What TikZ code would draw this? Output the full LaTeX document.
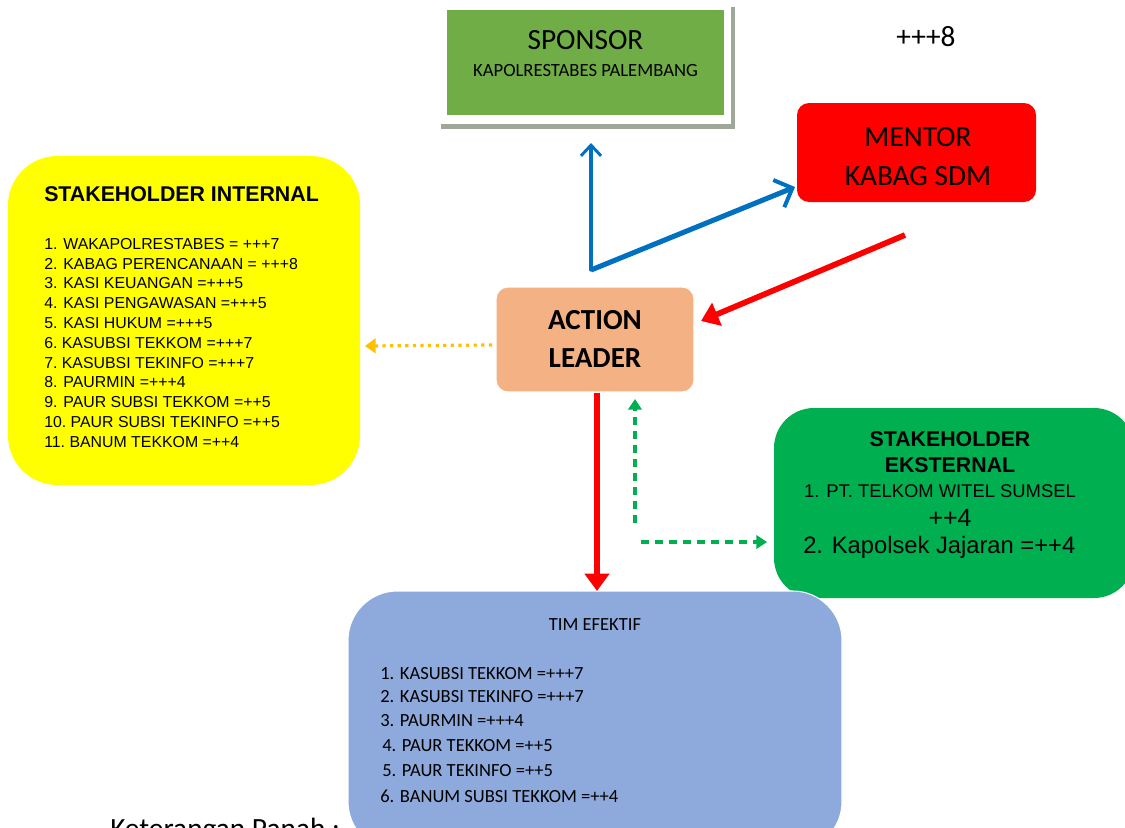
\documentclass[tikz,border=0pt]{standalone}
\usepackage{fontspec}
\setmainfont{Carlito}
\newfontfamily\arialf{Liberation Sans}
\usetikzlibrary{arrows.meta}
\definecolor{sgreen}{HTML}{70AD47}
\definecolor{sgrey}{HTML}{9FA898}
\definecolor{mred}{HTML}{FF0000}
\definecolor{iyellow}{HTML}{FFFF00}
\definecolor{lorange}{HTML}{F4B183}
\definecolor{egreen}{HTML}{00B050}
\definecolor{tblue}{HTML}{8EA9DB}
\definecolor{ablue}{HTML}{0070C0}
\definecolor{aorange}{HTML}{FFC000}
\tikzset{
  box/.style n args={2}{rectangle, minimum width=#1*0.75pt, minimum height=#2*0.75pt, inner sep=0pt},
  bluearrow/.style={draw=ablue, -{Straight Barb[length=8pt,width=15pt,line width=2.2pt]}},
  bigbluearrow/.style={draw=ablue, -{Straight Barb[length=11pt,width=22pt,line width=3pt]}},
  redarrow/.style={draw=mred, -{Triangle[length=13pt,width=18pt]}},
  greenarrow/.style={draw=egreen, dash pattern=on 6pt off 4.5pt, line width=2.3pt, -{Triangle[length=8pt,width=10pt]}},
  orangearrow/.style={draw=aorange, dash pattern=on 2.4pt off 3.3pt, line width=2.4pt, -{Triangle[length=8pt,width=11pt]}},
  timitem/.style={anchor=west, inner sep=0pt, font=\fontsize{13.9}{16}\selectfont},
}
\begin{document}
\begin{tikzpicture}[x=0.75pt,y=-0.75pt]
\useasboundingbox (0,0) rectangle (1125,828);
\clip (0,0) rectangle (1125,828);
% sponsor with shadow
\fill[sgrey] (441,7) rectangle (735,129);
\fill[white] (437,3) rectangle (731,124);
\node[box={277}{105}, fill=sgreen] (sponsor) at (585.5,62.5) {};
\node[font=\fontsize{22}{24}\selectfont] (sponsort) at (585.5,40) {SPONSOR};
\node[font=\fontsize{14}{16}\selectfont] (sponsors) at (585.5,71) {KAPOLRESTABES PALEMBANG};
\node[font=\fontsize{22}{24}\selectfont] (plus8) at (926,37) {+++8};
% mentor
\node[box={239}{99}, fill=mred, rounded corners=9pt] (mentor) at (916.5,152.5) {};
\node[font=\fontsize{22}{24}\selectfont] (mentor1) at (918,137) {MENTOR};
\node[font=\fontsize{22}{24}\selectfont] (mentor2) at (918,176) {KABAG SDM};
% internal
\node[box={352}{329}, fill=iyellow, rounded corners=37pt] (internal) at (184,320.5) {};
\node[anchor=west, inner sep=0pt, font=\arialf\bfseries\fontsize{16}{18}\selectfont] (intt) at (44,194) {STAKEHOLDER INTERNAL};
\node[anchor=north west, inner sep=0pt, align=left, font=\arialf\fontsize{11.9}{14.85}\selectfont] (intl) at (44,238) {1. WAKAPOLRESTABES = +++7\\2. KABAG PERENCANAAN = +++8\\3. KASI KEUANGAN =+++5\\4. KASI PENGAWASAN =+++5\\5. KASI HUKUM =+++5\\6.\ KASUBSI\ TEKKOM =+++7\\7.\ KASUBSI\ TEKINFO =+++7\\8. PAURMIN =+++4\\9. PAUR SUBSI TEKKOM =++5\\10.\ PAUR SUBSI TEKINFO =++5\\11.\ BANUM TEKKOM =++4};
% action leader
\node[box={198}{105}, fill=lorange, draw=white, line width=0.8pt, rounded corners=9pt] (leader) at (595,339.5) {};
\node[font=\bfseries\fontsize{21.8}{24}\selectfont] (leader1) at (595,320) {ACTION};
\node[font=\bfseries\fontsize{21.8}{24}\selectfont] (leader2) at (595,358) {LEADER};
% eksternal
\node[box={360}{190}, fill=egreen, rounded corners=30pt] (ekst) at (954,503) {};
\node[font=\arialf\bfseries\fontsize{16}{19.5}\selectfont, align=center] (ekstt) at (950,452) {STAKEHOLDER\\EKSTERNAL};
\node[font=\arialf\fontsize{13.8}{16}\selectfont] (ekst1) at (940,491) {1. PT. TELKOM WITEL SUMSEL};
\node[font=\arialf\fontsize{18.7}{20}\selectfont] (ekst2) at (950,518) {++4};
\node[anchor=west, inner sep=0pt, font=\arialf\fontsize{17.8}{20}\selectfont] (ekst3) at (803,547) {2. Kapolsek Jajaran =++4};
% tim efektif
\node[box={494}{260}, fill=tblue, draw=white, line width=0.8pt, rounded corners=37pt] (tim) at (595,721) {};
\node[font=\fontsize{13.9}{16}\selectfont] (timt) at (595,625) {TIM EFEKTIF};
\node[timitem] (tim1) at (380,674) {1. KASUBSI\ TEKKOM =+++7};
\node[timitem] (tim2) at (380,697) {2. KASUBSI\ TEKINFO =+++7};
\node[timitem] (tim3) at (380,721) {3. PAURMIN =+++4};
\node[timitem] (tim4) at (382,746) {4. PAUR TEKKOM =++5};
\node[timitem] (tim5) at (382,771) {5. PAUR TEKINFO =++5};
\node[timitem] (tim6) at (380,796) {6. BANUM SUBSI TEKKOM =++4};
% keterangan
\node[anchor=west, inner sep=0pt, font=\fontsize{22}{24}\selectfont] (ket) at (110,831) {Keterangan Panah :};
% arrows
\coordinate (bstart) at (591,270);
\coordinate (bup) at (591,143);
\coordinate (bmen) at (795,187);
\coordinate (rstart) at (905,235);
\coordinate (rend) at (701,321);
\coordinate (gustart) at (635,523);
\coordinate (guend) at (635,399);
\coordinate (grstart) at (641,542);
\coordinate (grend) at (767,542);
\coordinate (ostart) at (492,345);
\coordinate (oend) at (365,346);
\draw[bluearrow, line width=2.4pt, line cap=round] (bstart) -- (bup);
\draw[bigbluearrow, line width=3.8pt] (bstart) -- (bmen);
\draw[redarrow, line width=4.3pt] (rstart) -- (rend);
\draw[redarrow, line width=4pt] (leader.south -| 597,0) -- (597,591);
\draw[greenarrow] (gustart) -- (guend);
\draw[greenarrow] (grstart) -- (grend);
\draw[orangearrow] (ostart) -- (oend);
\end{tikzpicture}
\end{document}
